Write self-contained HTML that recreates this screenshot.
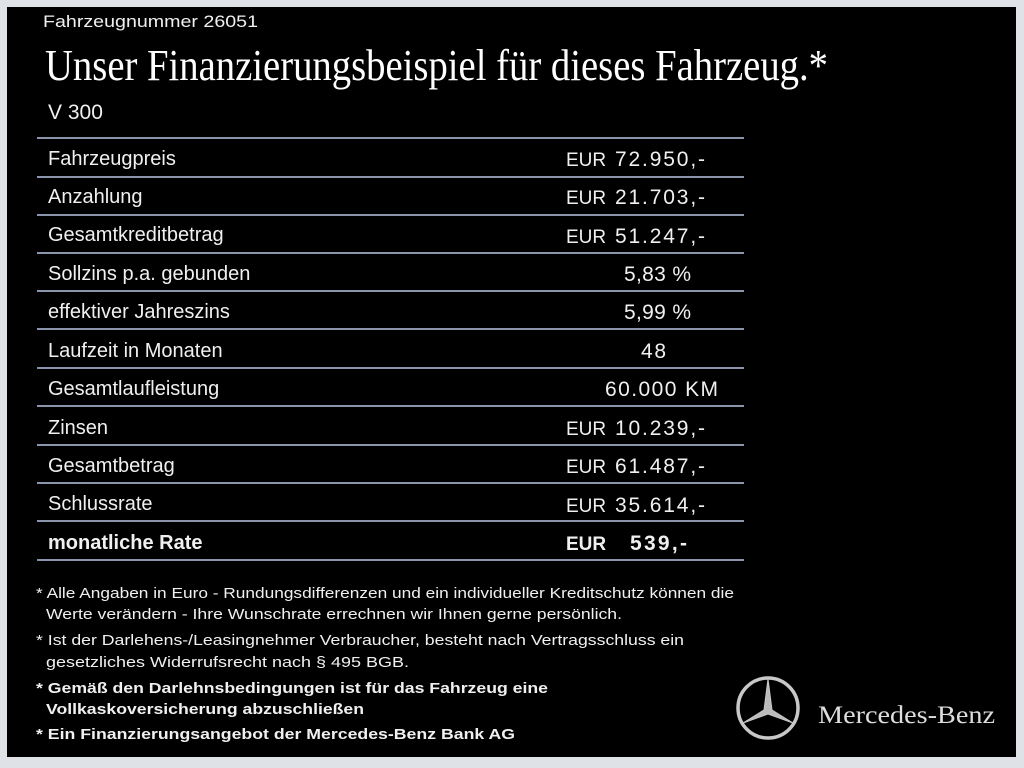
<!DOCTYPE html>
<html><head><meta charset="utf-8"><style>
html,body{margin:0;padding:0;background:#dde1e6;}
svg{display:block}
</style></head><body>
<svg width="1024" height="768" viewBox="0 0 1024 768" xmlns="http://www.w3.org/2000/svg">
<rect x="0" y="0" width="1024" height="768" fill="#dfe3e8"/>
<rect x="7" y="7" width="1009" height="750" fill="#000"/>
<g font-family="Liberation Sans, sans-serif" fill="#f0f0f0">
<text x="43" y="27" font-size="17" textLength="215" lengthAdjust="spacingAndGlyphs">Fahrzeugnummer  26051</text>
<text x="45" y="80" font-family="Liberation Serif, serif" font-size="44" textLength="783" lengthAdjust="spacingAndGlyphs" fill="#fff">Unser Finanzierungsbeispiel für dieses Fahrzeug.*</text>
<text x="48" y="119" font-size="21">V 300</text>
<g stroke="#8a94aa" stroke-width="2">
<line x1="37" y1="138" x2="744" y2="138"/><line x1="37" y1="177" x2="744" y2="177"/>
<line x1="37" y1="215" x2="744" y2="215"/><line x1="37" y1="253" x2="744" y2="253"/>
<line x1="37" y1="291" x2="744" y2="291"/><line x1="37" y1="329" x2="744" y2="329"/>
<line x1="37" y1="368" x2="744" y2="368"/><line x1="37" y1="406" x2="744" y2="406"/>
<line x1="37" y1="445" x2="744" y2="445"/><line x1="37" y1="483" x2="744" y2="483"/>
<line x1="37" y1="521" x2="744" y2="521"/><line x1="37" y1="560" x2="744" y2="560"/>
</g>
<g font-size="20">
<text x="48" y="165">Fahrzeugpreis</text>
<text x="48" y="203">Anzahlung</text>
<text x="48" y="241">Gesamtkreditbetrag</text>
<text x="48" y="280">Sollzins p.a. gebunden</text>
<text x="48" y="318">effektiver Jahreszins</text>
<text x="48" y="357">Laufzeit in Monaten</text>
<text x="48" y="395">Gesamtlaufleistung</text>
<text x="48" y="434">Zinsen</text>
<text x="48" y="472">Gesamtbetrag</text>
<text x="48" y="510">Schlussrate</text>
<text x="48" y="549" font-weight="bold">monatliche Rate</text>
</g>
<g font-size="21">
<text x="566" y="166" font-size="19">EUR</text><text x="615" y="166" textLength="90" lengthAdjust="spacing">72.950,-</text>
<text x="566" y="204" font-size="19">EUR</text><text x="615" y="204" textLength="90" lengthAdjust="spacing">21.703,-</text>
<text x="566" y="243" font-size="19">EUR</text><text x="615" y="243" textLength="90" lengthAdjust="spacing">51.247,-</text>
<text x="624" y="281" textLength="67" lengthAdjust="spacing">5,83 %</text>
<text x="624" y="319" textLength="67" lengthAdjust="spacing">5,99 %</text>
<text x="641" y="358" textLength="25" lengthAdjust="spacing">48</text>
<text x="605" y="396" textLength="113" lengthAdjust="spacing">60.000 KM</text>
<text x="566" y="435" font-size="19">EUR</text><text x="615" y="435" textLength="90" lengthAdjust="spacing">10.239,-</text>
<text x="566" y="473" font-size="19">EUR</text><text x="615" y="473" textLength="90" lengthAdjust="spacing">61.487,-</text>
<text x="566" y="512" font-size="19">EUR</text><text x="615" y="512" textLength="90" lengthAdjust="spacing">35.614,-</text>
<text x="566" y="550" font-size="19" font-weight="bold">EUR</text><text x="630" y="550" font-weight="bold" textLength="57" lengthAdjust="spacing">539,-</text>
</g>
<g font-size="15">
<text x="36" y="598" textLength="698" lengthAdjust="spacingAndGlyphs">* Alle Angaben in Euro - Rundungsdifferenzen und ein individueller Kreditschutz können die</text>
<text x="46" y="619" textLength="576" lengthAdjust="spacingAndGlyphs">Werte verändern - Ihre Wunschrate errechnen wir Ihnen gerne persönlich.</text>
<text x="36" y="645" textLength="648" lengthAdjust="spacingAndGlyphs">* Ist der Darlehens-/Leasingnehmer Verbraucher, besteht nach Vertragsschluss ein</text>
<text x="46" y="667" textLength="363" lengthAdjust="spacingAndGlyphs">gesetzliches  Widerrufsrecht nach § 495 BGB.</text>
<text x="36" y="693" font-weight="bold" textLength="512" lengthAdjust="spacingAndGlyphs">* Gemäß den Darlehnsbedingungen ist für das Fahrzeug eine</text>
<text x="46" y="714" font-weight="bold" textLength="318" lengthAdjust="spacingAndGlyphs">Vollkaskoversicherung abzuschließen</text>
<text x="36" y="739" font-weight="bold" textLength="479" lengthAdjust="spacingAndGlyphs">* Ein Finanzierungsangebot der Mercedes-Benz Bank AG</text>
</g>
<text x="818" y="723" font-family="Liberation Serif, serif" font-size="25" textLength="177" lengthAdjust="spacingAndGlyphs" fill="#ddd">Mercedes-Benz</text>
</g>
<g transform="translate(768,708)" fill="none" stroke="#c8c8c8">
<circle r="30" stroke-width="3.5"/>
<path d="M0,-29 L4,2 L25,15 L0,6 L-25,15 L-4,2 Z" fill="#bbb" stroke-width="1"/>
</g>
</svg>
</body></html>
